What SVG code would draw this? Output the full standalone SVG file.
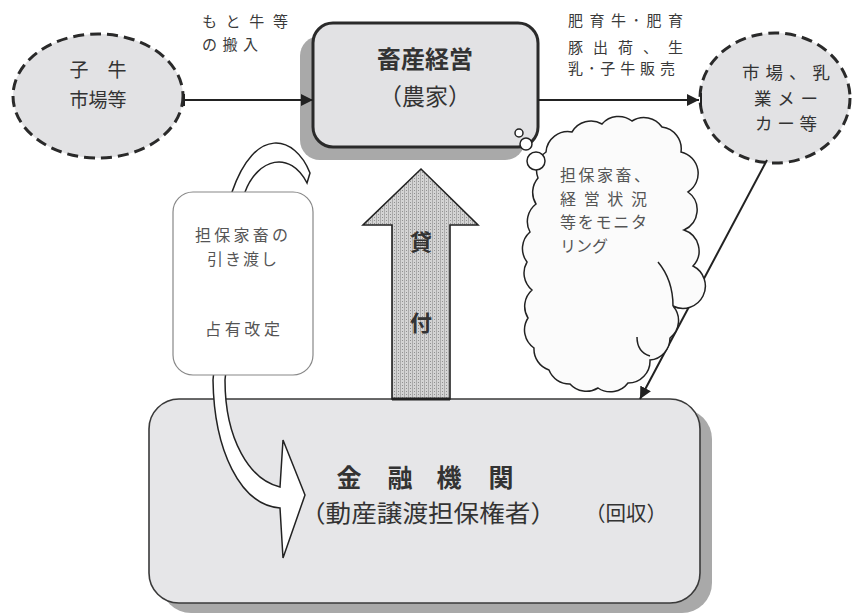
<svg xmlns="http://www.w3.org/2000/svg" width="861" height="615" viewBox="0 0 861 615">
<style>
text{font-family:"Noto Sans CJK JP","Noto Sans",sans-serif;fill:#333}
.ell{fill:#e2e2e4;stroke:#2a2a2a;stroke-width:3;stroke-dasharray:11 6}
.shadow{fill:#a9a9a9}
.line{stroke:#222;stroke-width:2;fill:none}
.lbl{font-size:15px;fill:#3a3a3a}
.soft{fill:#555;font-size:16px}
</style>
<defs>
<marker id="ah" viewBox="0 0 10 10" refX="10" refY="5" markerWidth="6" markerHeight="6" orient="auto" markerUnits="strokeWidth">
<path d="M0,0 L10,5 L0,10 Z" fill="#222"/>
</marker>
<pattern id="dots" width="4" height="3" patternUnits="userSpaceOnUse">
<rect width="4" height="3" fill="#d4d4d4"/>
<rect x="0" y="0" width="1" height="3" fill="#ababab"/>
<rect x="2" y="1" width="1" height="1" fill="#909090"/>
</pattern>
</defs>

<g id="node-calf-market">
<ellipse class="ell" cx="98" cy="96" rx="85" ry="62"/>
<text x="98" y="77" font-size="19" text-anchor="middle">子　牛</text>
<text x="98" y="107" font-size="19" text-anchor="middle">市場等</text>
</g>

<g id="node-farm">
<rect class="shadow" x="300" y="36" width="225" height="124" rx="20"/>
<rect x="313" y="23" width="225" height="124" rx="20" fill="#e2e2e4" stroke="#2a2a2a" stroke-width="3"/>
<text x="425" y="68" font-size="24" font-weight="bold" text-anchor="middle">畜産経営</text>
<text x="425" y="105" font-size="23" text-anchor="middle">（農家）</text>
</g>

<g id="node-market-dairy">
<ellipse class="ell" cx="775" cy="98" rx="75" ry="65"/>
<text x="786" y="79" font-size="17.5" text-anchor="middle" textLength="88" lengthAdjust="spacing">市場、乳</text>
<text x="786" y="104.5" font-size="17.5" text-anchor="middle" textLength="64" lengthAdjust="spacing">業メー</text>
<text x="786" y="130" font-size="17.5" text-anchor="middle" textLength="62" lengthAdjust="spacing">カー等</text>
</g>

<g id="node-bank">
<rect class="shadow" x="161" y="409" width="551" height="204" rx="30"/>
<rect x="149" y="399" width="551" height="204" rx="30" fill="#e6e6e8" stroke="#3a3a3a" stroke-width="1.6"/>
<g font-size="25" font-weight="bold" text-anchor="middle">
<text x="349" y="486.5">金</text>
<text x="400" y="486.5">融</text>
<text x="449" y="486.5">機</text>
<text x="501" y="486.5">関</text>
</g>
<text x="300" y="522" font-size="24" textLength="256" lengthAdjust="spacingAndGlyphs">（動産譲渡担保権者）</text>
<text x="585" y="521" font-size="20.5">（回収）</text>
</g>

<g id="connectors">
<line class="line" x1="184" y1="100" x2="313" y2="100" marker-end="url(#ah)"/>
<line class="line" x1="184" y1="94" x2="184" y2="106"/>
<line class="line" x1="538" y1="100" x2="699" y2="100" marker-end="url(#ah)"/>
<line class="line" x1="701" y1="93" x2="701" y2="107"/>
<line class="line" x1="767" y1="160" x2="640" y2="399" marker-end="url(#ah)"/>
<text class="lbl" x="202" y="26.5" font-size="16" textLength="86" lengthAdjust="spacing">もと牛等</text>
<text class="lbl" x="202" y="50" font-size="16" textLength="56" lengthAdjust="spacing">の搬入</text>
<text class="lbl" x="568" y="25.5" textLength="115" lengthAdjust="spacing">肥育牛･肥育</text>
<text class="lbl" x="568" y="53" textLength="115" lengthAdjust="spacing">豚出荷、生</text>
<text class="lbl" x="568" y="74" textLength="107" lengthAdjust="spacing">乳･子牛販売</text>
</g>

<g id="node-loan-arrow">
<polygon points="392,399 392,225 363,225 421,169 478,225 450,225 450,399" fill="url(#dots)" stroke="#222" stroke-width="1.6"/>
<line x1="392" y1="399" x2="450" y2="399" stroke="#222" stroke-width="3"/>
<text x="421" y="250" font-size="22" font-weight="bold" text-anchor="middle">貸</text>
<text x="421" y="331" font-size="22" font-weight="bold" text-anchor="middle">付</text>
</g>

<g id="node-monitoring-cloud">
<path d="M546,152 A22,22 0 0 1 572,132 A22,22 0 0 1 602,124 A22,22 0 0 1 632,121 A22,22 0 0 1 662,127 A22,22 0 0 1 681,152 A22,22 0 0 1 688,192 A22,22 0 0 1 684,230 A22,22 0 0 1 693,266 A22,22 0 0 1 673,306 A22,22 0 0 1 670,338 A22,22 0 0 1 650,360 A22,22 0 0 1 628,383 A22,22 0 0 1 598,388 A22,22 0 0 1 570,384 A22,22 0 0 1 549,370 A22,22 0 0 1 534,348 A22,22 0 0 1 528,318 A22,22 0 0 1 532,290 A22,22 0 0 1 527,262 A22,22 0 0 1 530,232 A22,22 0 0 1 536,204 A22,22 0 0 1 538,178 A22,22 0 0 1 546,152 Z" fill="#fbfbfb" stroke="#222" stroke-width="1.5"/>
<path d="M658,262 Q673,280 673,306 M637,337 Q637,352 650,356" fill="none" stroke="#222" stroke-width="1.5"/>
<circle cx="536" cy="161" r="9" fill="#fff" stroke="#222" stroke-width="1.5"/>
<circle cx="526" cy="144" r="6" fill="#fff" stroke="#222" stroke-width="1.5"/>
<circle cx="519" cy="133" r="4" fill="#fff" stroke="#222" stroke-width="1.5"/>
<text class="soft" x="560" y="181" textLength="90" lengthAdjust="spacing">担保家畜、</text>
<text class="soft" x="560" y="204.5" textLength="87" lengthAdjust="spacing">経営状況</text>
<text class="soft" x="560" y="228" textLength="87" lengthAdjust="spacing">等をモニタ</text>
<text class="soft" x="560" y="251.5">リング</text>
</g>

<g id="node-transfer-arrow">
<path d="M307,183 L310,173 C295,135 255,125 232,192 L213,380 C214,450 240,505 280,508 L283,558 L305,495 L283,440 L280,487 C250,480 225,440 225,380 L245,192 C258,158 290,150 307,183 Z" fill="#fff" stroke="#222" stroke-width="1.5"/>
</g>

<g id="node-handover-box">
<rect x="173" y="192" width="140" height="183" rx="20" fill="#fff" stroke="#888" stroke-width="1.2"/>
<text class="soft" x="195" y="241" textLength="93" lengthAdjust="spacing">担保家畜の</text>
<text class="soft" x="207" y="265" textLength="70" lengthAdjust="spacing">引き渡し</text>
<text class="soft" x="205" y="335" textLength="75" lengthAdjust="spacing">占有改定</text>
</g>
</svg>
